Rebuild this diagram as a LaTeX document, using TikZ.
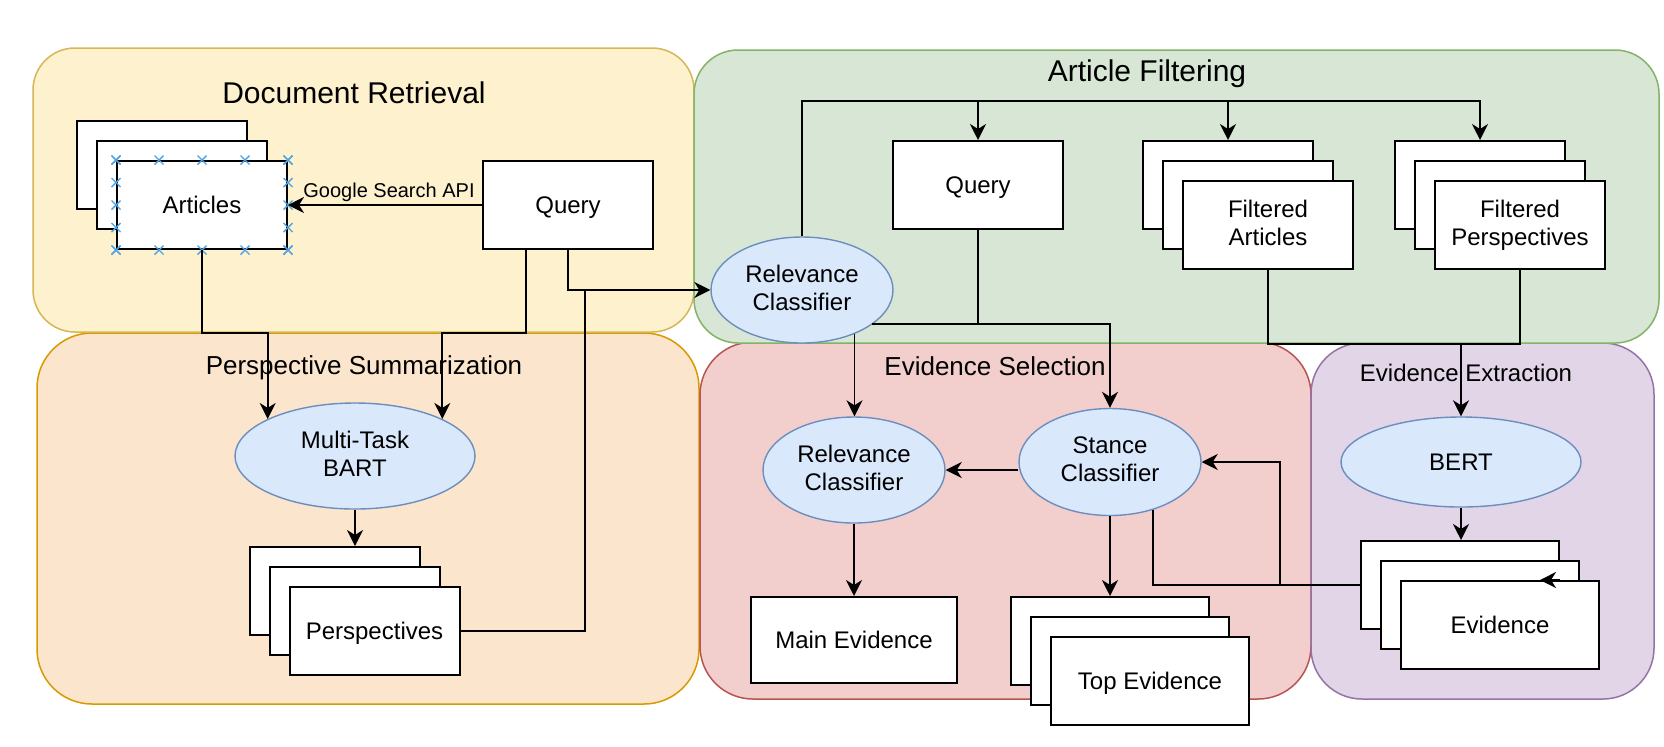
\documentclass[tikz,border=0pt]{standalone}
\usepackage{fontspec}
\setmainfont{Liberation Sans}
\usetikzlibrary{arrows.meta,calc,shapes.geometric}

\definecolor{drfill}{HTML}{FDF1CE}\definecolor{drline}{HTML}{D6B656}
\definecolor{psfill}{HTML}{FBE5CD}\definecolor{psline}{HTML}{D79B00}
\definecolor{affill}{HTML}{D8E7D5}\definecolor{afline}{HTML}{82B366}
\definecolor{esfill}{HTML}{F2CFCD}\definecolor{esline}{HTML}{B85450}
\definecolor{eefill}{HTML}{E1D5E7}\definecolor{eeline}{HTML}{9673A6}
\definecolor{modfill}{HTML}{DAE8FC}\definecolor{modline}{HTML}{6C8EBF}
\definecolor{selblue}{HTML}{4DA3E6}

% line strut: keeps the text block centred on the capitals
\newcommand{\lstrut}{\rule[-0.2em]{0pt}{1.12em}}

\begin{document}
\begin{tikzpicture}[x=0.5pt,y=-0.5pt,
  panel/.style={line width=0.75pt, rounded corners=#1},
  title/.style={font=\fontsize{15}{18}\selectfont, text depth=0pt},
  subtitle/.style={font=\fontsize{13}{16}\selectfont, text depth=0pt},
  doc/.style={draw, line width=1pt, fill=white, minimum width=85pt, minimum height=44pt,
    align=center, font=\fontsize{12}{14}\selectfont,
    execute at begin node=\lstrut, execute at end node=\lstrut},
  wdoc/.style={doc, minimum width=99pt},
  model/.style={ellipse, draw=modline, fill=modfill, line width=0.7pt, inner sep=0pt,
    align=center, font=\fontsize{12}{14}\selectfont,
    execute at begin node=\lstrut, execute at end node=\lstrut},
  link/.style={line width=0.9pt},
  arr/.style={link, -{Stealth[length=8pt,width=8pt,inset=2.5pt]}},
  sel/.style={draw=selblue, line width=0.7pt}]

\useasboundingbox (0,0) rectangle (1664,746);

% Panels
\draw[panel=27.5pt, draw=psline, fill=psfill] (37,333) rectangle (699,704);
\draw[panel=21pt, draw=drline, fill=drfill] (33,48) rectangle (694,332);
\draw[panel=26.5pt, draw=esline, fill=esfill] (700,342) rectangle (1311,699);
\draw[panel=25.5pt, draw=eeline, fill=eefill] (1311,343) rectangle (1654,699);
\draw[panel=22pt, draw=afline, fill=affill] (694,50) rectangle (1659,343);

\node[title] (drtitle) at (354,93) {Document Retrieval};
\node[title] (aftitle) at (1147,71) {Article Filtering};
\node[subtitle] (pstitle) at (364,365) {Perspective Summarization};
\node[subtitle] (estitle) at (995,366) {Evidence Selection};
\node[subtitle, font=\fontsize{12}{14}\selectfont] (eetitle) at (1466,373) {Evidence Extraction};

% Document Retrieval
\node[doc] (art1) at (162,165) {};
\node[doc] (art2) at (182,185) {};
\node[doc] (art3) at (202,205) {Articles};
\node[doc] (qdr) at (568,205) {Query};

% selection marks on the articles
\foreach \t in {0,0.25,0.5,0.75,1} {
  \draw[sel] ($(art3.north west)!\t!(art3.north east)$) +(-4.5,-4.5) -- +(4.5,4.5) +(-4.5,4.5) -- +(4.5,-4.5);
  \draw[sel] ($(art3.south west)!\t!(art3.south east)$) +(-4.5,-4.5) -- +(4.5,4.5) +(-4.5,4.5) -- +(4.5,-4.5);
  \draw[sel] ($(art3.north west)!\t!(art3.south west)$) +(-4.5,-4.5) -- +(4.5,4.5) +(-4.5,4.5) -- +(4.5,-4.5);
  \draw[sel] ($(art3.north east)!\t!(art3.south east)$) +(-4.5,-4.5) -- +(4.5,4.5) +(-4.5,4.5) -- +(4.5,-4.5);
}

% Perspective Summarization
\node[model, minimum width=120pt, minimum height=53pt] (bart) at (355,456) {Multi-Task\\BART};
\node[doc] (per1) at (334.5,591) {};
\node[doc] (per2) at (354.5,611) {};
\node[doc] (per3) at (374.5,631) {Perspectives};

% Article Filtering
\node[model, minimum width=91pt, minimum height=53pt] (rcaf) at (802,290) {Relevance\\Classifier};
\node[doc] (qaf) at (978,185) {Query};
\node[doc] (fa1) at (1228,185) {};
\node[doc] (fa2) at (1248,205) {};
\node[doc] (fa3) at (1268,225) {Filtered\\Articles};
\node[doc] (fp1) at (1480,185) {};
\node[doc] (fp2) at (1500,205) {};
\node[doc] (fp3) at (1520,225) {Filtered\\Perspectives};

% Evidence Selection
\node[model, minimum width=91pt, minimum height=53pt] (rces) at (854,470) {Relevance\\Classifier};
\node[model, minimum width=91pt, minimum height=53.5pt] (stance) at (1110,462) {Stance\\Classifier};
\node[doc, minimum width=103pt, minimum height=43pt] (main) at (854,640) {Main Evidence};
\node[wdoc] (top1) at (1110,641) {};
\node[wdoc] (top2) at (1130,661) {};
\node[wdoc] (top3) at (1150,681) {Top Evidence};

% Evidence Extraction
\node[model, minimum width=120pt, minimum height=45pt] (bert) at (1461,462) {BERT};
\node[wdoc] (ev1) at (1460,585) {};
\node[wdoc] (ev2) at (1480,605) {};
\node[wdoc] (ev3) at (1500,625) {Evidence};

% Connectors
\draw[arr] (qdr.west) -- (art3.east)
  node[midway, above, xshift=2pt, inner sep=1pt, font=\fontsize{10}{12}\selectfont] (gsapi) {Google Search API};
\draw[arr] (art3.south) -- ++(0,83) -| (bart.157);
\draw[arr] ($(qdr.south)+(-42,0)$) -- ++(0,83) -| (bart.23);
\draw[arr] (qdr.south) |- (rcaf.west);
\coordinate (pjoin) at (585,290);
\draw[link] (per3.east) -| (pjoin);
\draw[arr] (bart.south) -- (bart.south |- per1.north);

\coordinate (bus) at (802,101);
\draw[arr] (rcaf.north) -- (bus) -| (fp1.north);
\draw[arr] (bus -| qaf.north) -- (qaf.north);
\draw[arr] (bus -| fa1.north) -- (fa1.north);
\draw[link] (rcaf.-26) -- (rcaf.-26 -| qaf.south);
\draw[arr] (qaf.south) -- ++(0,94) -| (stance.north);
\draw[arr] (rcaf.-40) -- (rcaf.-40 |- rces.north);
\draw[link] (fa3.south) -- ++(0,74) coordinate (fmerge) -| (fp3.south);
\draw[arr] (fmerge -| bert.north) -- (bert.north);

\draw[arr] (stance.west |- rces.east) -- (rces.east);
\draw[arr] (rces.south) -- (main.north);
\draw[arr] (stance.south) -- (top1.north);
\draw[arr] (bert.south) -- (bert.south |- ev1.north);
\draw[arr] (ev1.west) -- ++(-80,0) |- (stance.east);
\draw[link] (stance.-48) |- (ev1.west);
\draw[arr] ($(ev3.north east)+(-40,0)$) -- ($(ev3.north east)+(-60,0)$);

\end{tikzpicture}
\end{document}
